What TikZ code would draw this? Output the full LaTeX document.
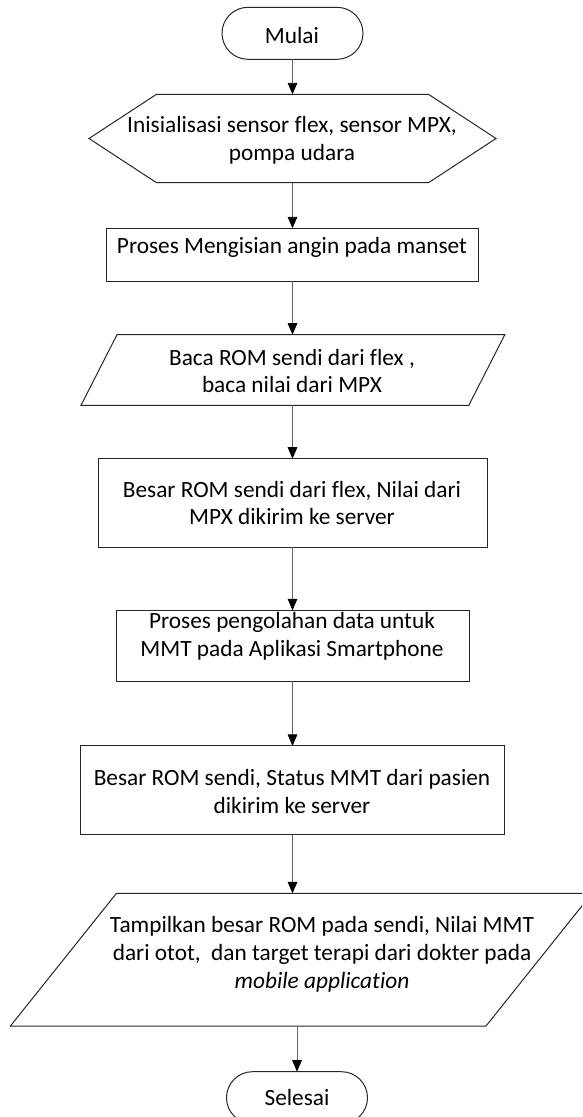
\documentclass[tikz,border=0pt]{standalone}
\usepackage{fontspec}
\setmainfont{Carlito}[Ligatures={NoCommon}]
\usetikzlibrary{arrows.meta}
\begin{document}
\begin{tikzpicture}[x=1pt,y=-1pt,
  every node/.style={inner sep=0pt, outer sep=0pt},
  framed/.style={draw=black!85, line width=1pt},
  outline/.style={draw=black!85, line width=1pt, line join=miter},
  txt/.style={align=center, font=\fontsize{23.3pt}{27.8pt}\selectfont, text=black},
  arr/.style={draw=black!60, line width=0.9pt,
    -{Triangle[width=9.6pt,length=11.5pt,color=black,fill=black]}}
]
\useasboundingbox (0,0) rectangle (582,1117);
\clip (0,0) rectangle (582,1117);

% terminator: start
\node[framed, rounded corners=26pt, minimum width=141pt, minimum height=52pt] (start) at (292.5,33.3) {};
\node[txt] (tstart) at (292,35) {Mulai};

% preparation (hexagon)
\node[minimum width=407pt, minimum height=88.4pt] (init) at (292.5,138.5) {};
\draw[outline] (init.west) -- ([xshift=67.5pt]init.north west) -- ([xshift=-67.5pt]init.north east)
  -- (init.east) -- ([xshift=-67.5pt]init.south east) -- ([xshift=67.5pt]init.south west) -- cycle;
\node[txt] (tinit) at (292,140.5) {Inisialisasi sensor flex, sensor MPX,\\pompa udara};

% process: fill cuff
\node[framed, minimum width=372pt, minimum height=53pt] (b2) at (292.5,254.8) {};
\node[txt] (tb2) at (292,247) {Proses Mengisian angin pada manset};

% input: read sensors
\node[minimum width=423.8pt, minimum height=70.6pt] (p1) at (292.9,370) {};
\draw[outline] ([xshift=36pt]p1.north west) -- (p1.north east) -- ([xshift=-36pt]p1.south east)
  -- (p1.south west) -- cycle;
\node[txt] (tp1) at (292,371) {Baca ROM sendi dari flex ,\\baca nilai dari MPX};

% process: send to server
\node[framed, minimum width=389pt, minimum height=88.6pt] (b3) at (292.5,503) {};
\node[txt] (tb3) at (292,503) {Besar ROM sendi dari flex, Nilai dari\\MPX dikirim ke server};

% process: MMT on smartphone
\node[framed, minimum width=353pt, minimum height=70.7pt] (b4) at (292.5,645.7) {};
\node[txt] (tb4) at (292,636.2) {Proses pengolahan data untuk\\MMT pada Aplikasi Smartphone};

% process: send status
\node[framed, minimum width=424.2pt, minimum height=88.7pt] (b5) at (292.5,790.3) {};
\node[txt] (tb5) at (292,791.5) {Besar ROM sendi, Status MMT dari pasien\\dikirim ke server};

% output: display on mobile application
\node[minimum width=581.6pt, minimum height=132.7pt] (p2) at (301.2,959.7) {};
\draw[outline] ([xshift=106pt]p2.north west) -- (p2.north east) -- ([xshift=-106pt]p2.south east)
  -- (p2.south west) -- cycle;
\node[txt] (tp2) at (322,954) {Tampilkan besar ROM pada sendi, Nilai MMT\\dari otot,~~dan target terapi dari dokter pada\\\textit{mobile application}};

% terminator: end
\node[framed, rounded corners=26pt, minimum width=141pt, minimum height=52pt] (stop) at (297,1097.7) {};
\node[txt] (tstop) at (297,1097) {Selesai};

% flow
\draw[arr] (start.south) -- (init.north);
\draw[arr] (init.south) -- (b2.north);
\draw[arr] (b2.south) -- (p1.north -| b2.south);
\draw[arr] (p1.south -| b3.north) -- (b3.north);
\draw[arr] (b3.south) -- (b4.north);
\draw[arr] (b4.south) -- (b5.north);
\draw[arr] (b5.south) -- (b5.south |- p2.north);
\draw[arr] (stop.north |- p2.south) -- (stop.north);
\end{tikzpicture}
\end{document}
